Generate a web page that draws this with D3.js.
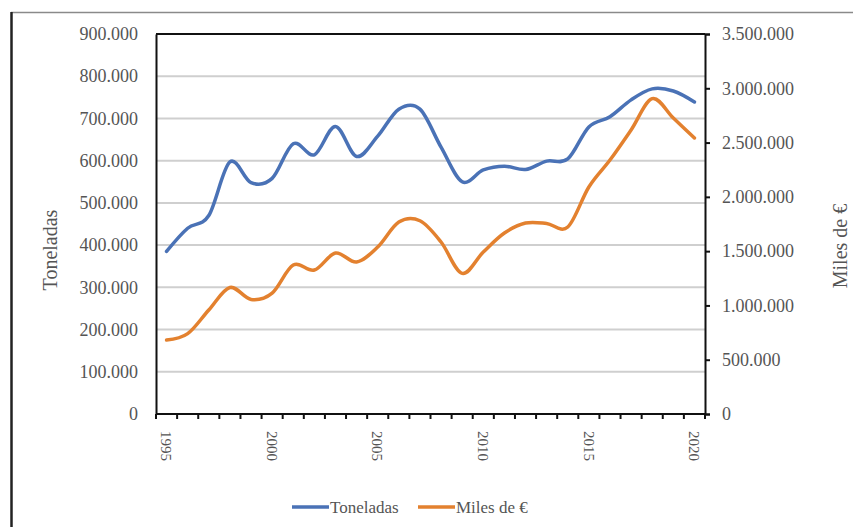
<!DOCTYPE html>
<html>
<head>
<meta charset="utf-8">
<script src="https://cdn.jsdelivr.net/npm/d3@7"></script>
<style>
  html, body { margin: 0; padding: 0; background: #fff; }
  svg { display: block; font-family: "Liberation Serif", "Times New Roman", serif; }
</style>
</head>
<body>
<svg id="chart" width="853" height="527"></svg>
<script>
// Years on the category axis
const years = d3.range(1995, 2021);
// Toneladas (left axis)
const toneladas = [385000, 440000, 470000, 597000, 548000, 558000, 640000, 614000, 681000, 610000,
  658000, 722000, 722000, 632000, 550000, 578000, 587000, 579000, 599000, 604000,
  680000, 704000, 744000, 770000, 765000, 739000];
// Miles de € (right axis)
const miles = [681000, 740000, 958000, 1165000, 1055000, 1114000, 1372000, 1326000, 1483000, 1400000,
  1538000, 1768000, 1780000, 1584000, 1295000, 1492000, 1667000, 1759000, 1755000, 1722000,
  2091000, 2339000, 2616000, 2905000, 2726000, 2542000];
// Tick values
const leftTicks = d3.range(0, 900001, 100000);
const rightTicks = d3.range(0, 3500001, 500000);
const xLabelYears = [1995, 2000, 2005, 2010, 2015, 2020];
const seriesNames = ["Toneladas", "Miles de €"];
const seriesColors = ["#4a72b6", "#e3812f"];

const svg = d3.select("#chart");
const plot = { left: 156, right: 705, top: 34, bottom: 414 };

// Spanish number format: thousands separated by "."
const fmt = d3.formatLocale({ decimal: ",", thousands: ".", grouping: [3], currency: ["", "€"] }).format(",d");

// Outer frame
svg.append("line").attr("x1", 11).attr("x2", 853).attr("y1", 12.5).attr("y2", 12.5)
  .attr("stroke", "#8a8a8a").attr("stroke-width", 1.5);
svg.append("line").attr("x1", 11.5).attr("x2", 11.5).attr("y1", 12).attr("y2", 527)
  .attr("stroke", "#222").attr("stroke-width", 2.5);

const x = d3.scaleBand().domain(years).range([plot.left, plot.right]);
const xc = d => x(d) + x.bandwidth() / 2;
const yL = d3.scaleLinear().domain([0, 900000]).range([plot.bottom, plot.top]);
const yR = d3.scaleLinear().domain([0, 3500000]).range([plot.bottom, plot.top]);

// Gridlines
svg.append("g").selectAll("line").data(leftTicks.slice(1, -1)).join("line")
  .attr("x1", plot.left).attr("x2", plot.right)
  .attr("y1", d => yL(d)).attr("y2", d => yL(d))
  .attr("stroke", "#cfcfcf").attr("stroke-width", 2);

// Plot border top line
svg.append("line").attr("x1", plot.left).attr("x2", plot.right)
  .attr("y1", plot.top).attr("y2", plot.top).attr("stroke", "#111").attr("stroke-width", 2);

// Left axis
const gL = svg.append("g").attr("transform", `translate(${plot.left},0)`)
  .call(d3.axisLeft(yL).tickValues(leftTicks).tickFormat(fmt).tickSize(0).tickPadding(18));
gL.select(".domain").attr("stroke", "#111").attr("stroke-width", 2);
gL.selectAll("text").attr("font-size", 18).attr("fill", "#555").attr("font-family", "Liberation Serif");

// Right axis
const gR = svg.append("g").attr("transform", `translate(${plot.right},0)`)
  .call(d3.axisRight(yR).tickValues(rightTicks).tickFormat(fmt).tickSize(5).tickPadding(12));
gR.select(".domain").attr("stroke", "#111").attr("stroke-width", 2);
gR.selectAll(".tick line").attr("stroke", "#111").attr("stroke-width", 2);
gR.selectAll("text").attr("font-size", 18).attr("fill", "#555").attr("font-family", "Liberation Serif");

// Bottom axis: ticks at category boundaries
const boundaries = years.map(d => x(d)).concat([plot.right]);
svg.append("line").attr("x1", plot.left).attr("x2", plot.right)
  .attr("y1", plot.bottom).attr("y2", plot.bottom).attr("stroke", "#111").attr("stroke-width", 2);
svg.append("g").selectAll("line").data(boundaries).join("line")
  .attr("x1", d => d).attr("x2", d => d)
  .attr("y1", plot.bottom).attr("y2", plot.bottom + 5)
  .attr("stroke", "#111").attr("stroke-width", 2);
svg.append("g").selectAll("text").data(xLabelYears).join("text")
  .attr("transform", d => `translate(${xc(d)},${plot.bottom + 17}) rotate(90)`)
  .attr("dy", "0.35em").attr("text-anchor", "start")
  .attr("font-size", 15).attr("fill", "#555").text(d => d);

// Axis titles
svg.append("text").attr("transform", "translate(50,250) rotate(-90)")
  .attr("text-anchor", "middle").attr("dy", "0.35em")
  .attr("font-size", 20).attr("fill", "#555").text("Toneladas");
svg.append("text").attr("transform", "translate(840,246) rotate(-90)")
  .attr("text-anchor", "middle").attr("dy", "0.35em")
  .attr("font-size", 20).attr("fill", "#555").text("Miles de €");

// Smoothed lines
const lineL = d3.line().x((d, i) => xc(years[i])).y(d => yL(d)).curve(d3.curveCardinal.tension(0));
const lineR = d3.line().x((d, i) => xc(years[i])).y(d => yR(d)).curve(d3.curveCardinal.tension(0));
svg.append("path").datum(toneladas).attr("d", lineL).attr("fill", "none")
  .attr("stroke", seriesColors[0]).attr("stroke-width", 3.5).attr("stroke-linecap", "round");
svg.append("path").datum(miles).attr("d", lineR).attr("fill", "none")
  .attr("stroke", seriesColors[1]).attr("stroke-width", 3.5).attr("stroke-linecap", "round");

// Legend
const legendItems = [{ x: 292, i: 0 }, { x: 418, i: 1 }];
const lg = svg.append("g").selectAll("g").data(legendItems).join("g")
  .attr("transform", d => `translate(${d.x},507)`);
lg.append("line").attr("x1", 0).attr("x2", 37).attr("y1", 0).attr("y2", 0)
  .attr("stroke", d => seriesColors[d.i]).attr("stroke-width", 3.5);
lg.append("text").attr("x", 38).attr("dy", "0.35em").attr("font-size", 17)
  .attr("fill", "#555").text(d => seriesNames[d.i]);
</script>
</body>
</html>
